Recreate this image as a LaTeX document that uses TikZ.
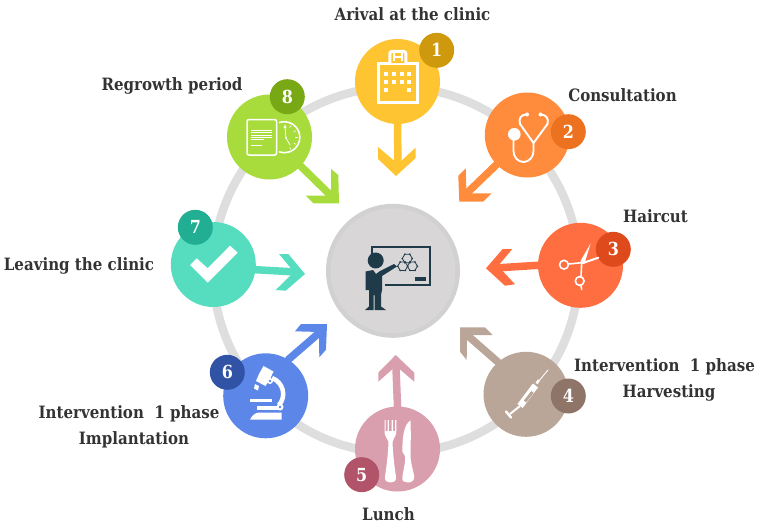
\documentclass[tikz,border=0pt]{standalone}
\usepackage{fontspec}
\newfontfamily\labfont[FakeStretch=0.885]{DejaVu Serif}
\usetikzlibrary{calc}
\pgfdeclarelayer{bg}\pgfsetlayers{bg,main}
\definecolor{cA}{HTML}{FFC431}\definecolor{bA}{HTML}{CF990E}
\definecolor{cB}{HTML}{FF8C3D}\definecolor{bB}{HTML}{EC7220}
\definecolor{cC}{HTML}{FF6E40}\definecolor{bC}{HTML}{DF4A1C}
\definecolor{cD}{HTML}{BAA599}\definecolor{bD}{HTML}{8F7567}
\definecolor{cE}{HTML}{D99FAE}\definecolor{bE}{HTML}{B15469}
\definecolor{cF}{HTML}{5C87E8}\definecolor{bF}{HTML}{3153A5}
\definecolor{cG}{HTML}{56DDC0}\definecolor{bG}{HTML}{22AE93}
\definecolor{cH}{HTML}{A8DC3D}\definecolor{bH}{HTML}{78A814}
\definecolor{ringc}{HTML}{DEDEDE}
\definecolor{hubout}{HTML}{D1D1D1}
\definecolor{hubin}{HTML}{D8D6D7}
\definecolor{txt}{HTML}{333333}
\definecolor{dark}{HTML}{1F3A48}
\tikzset{
 stage/.style={circle,minimum size=85pt,inner sep=0pt,fill=#1},
 badge/.style={circle,minimum size=35pt,inner sep=0pt,fill=#1,text=white,font=\labfont\bfseries\fontsize{18}{18}\selectfont},
 lab/.style={text=txt,inner sep=0pt,font=\labfont\bfseries\fontsize{17}{21}\selectfont,align=center},
 shaft/.style={line width=7.5pt,draw=#1,line cap=round},
 ico/.style={draw=white,line width=#1,line cap=round,line join=round},
}
\begin{document}
\begin{tikzpicture}[x=1pt,y=-1pt]
\useasboundingbox (0,0) rectangle (761,527);
\coordinate (rc) at (396,270);
\begin{pgfonlayer}{bg}
\draw[ringc,line width=8.5pt] (rc) circle[radius=183pt];
\end{pgfonlayer}
\node[circle,minimum size=134pt,inner sep=0pt,fill=hubout] (hub) at (393,270.8) {};
\fill[hubin] (hub) circle[radius=62.5pt];
% stations
\node[stage=cA] (n1) at (397.5,81.5) {};
\node[stage=cB] (n2) at (527.3,135) {};
\node[stage=cC] (n3) at (580.5,265.3) {};
\node[stage=cD] (n4) at (526,394.3) {};
\node[stage=cE] (n5) at (397.5,449) {};
\node[stage=cF] (n6) at (265.7,395.8) {};
\node[stage=cG] (n7) at (213.3,264.5) {};
\node[stage=cH] (n8) at (269.5,137) {};
% badges
\node[badge=bA] (b1) at (436.7,50.3) {1};
\node[badge=bB] (b2) at (568.3,131.7) {2};
\node[badge=bC] (b3) at (613.3,249.3) {3};
\node[badge=bD] (b4) at (568.3,396) {4};
\node[badge=bE] (b5) at (361.7,474.7) {5};
\node[badge=bF] (b6) at (227.3,372.3) {6};
\node[badge=bG] (b7) at (195.3,227.3) {7};
\node[badge=bH] (b8) at (287.3,96.7) {8};
% arrows
\coordinate (s1) at (398,166);\coordinate (s2) at (467,193);\coordinate (s3) at (495,268);\coordinate (s4) at (467,335);
\coordinate (s5) at (396,368);\coordinate (s6) at (319,333);\coordinate (s7) at (296,272);\coordinate (s8) at (331,195.7);
\begin{pgfonlayer}{bg}
\draw[shaft=cA] (n1.south) -- (s1);
\fill[cA] (396,176)--(415.7,158)--(415.7,147.5)--(398,164)--(378,147)--(378,159)--cycle;
\draw[shaft=cB] (n2.center) -- (s2);
\fill[cB] (459.3,201.5)--(458.3,175.7)--(465.7,168.3)--(466.5,193.5)--(491.7,193.3)--(483.3,201.5)--cycle;
\draw[shaft=cC] (n3.180) -- (s3);
\fill[cC] (486,268.3)--(502.7,249)--(512.3,249)--(498,266)--(515,284.3)--(505,285.7)--cycle;
\draw[shaft=cD] (n4.131) -- (s4);
\fill[cD] (460,327.3)--(485,327.3)--(492.7,335)--(467,335)--(466.7,360)--(460,351.7)--cycle;
\draw[shaft=cE] (n5.north) -- (s5);
\fill[cE] (395.7,355)--(414.3,372.7)--(414.3,381.7)--(396,366)--(378.3,381.7)--(378.3,372.7)--cycle;
\draw[shaft=cF] (n6.58) -- (s6);
\fill[cF] (327,324)--(301,324)--(295,331.3)--(319,332)--(319.3,357.3)--(326,349.7)--cycle;
\draw[shaft=cG] (n7.-7) -- (s7);
\fill[cG] (305,274)--(288.3,254)--(279,254)--(294,272)--(275.7,290)--(285.7,290.7)--cycle;
\draw[shaft=cH] (n8.-43) -- (s8);
\fill[cH] (339,203.3)--(338.3,175)--(331,169)--(331,195.7)--(305.7,195.7)--(313.3,203.3)--cycle;
\end{pgfonlayer}
% labels
\node[lab] (l1) at (412.5,14) {Arival at the clinic};
\node[lab] (l2) at (622.5,95) {Consultation};
\node[lab] (l3) at (655.5,216) {Haircut};
\node[lab] (l4) at (664.5,380) {Intervention\ \ 1 phase\\[4.5pt]\hspace*{9pt}Harvesting};
\node[lab] (l5) at (388.5,514) {Lunch};
\node[lab] (l6) at (129,427) {Intervention\ \ 1 phase\\[5pt]\hspace*{10pt}Implantation};
\node[lab] (l7) at (79,265.5) {Leaving the clinic};
\node[lab] (l8) at (172,85.5) {Regrowth period};
% ---- icon 1 hospital
\draw[ico=3pt,line join=miter] (378.8,63.2) rectangle (417.5,102.5);
\draw[ico=3pt,rounded corners=2pt,fill=cA] (389.8,63.2)--(389.8,51.5)--(405.8,51.5)--(405.8,63.2);
\draw[ico=2.4pt,line cap=butt] (393.8,53)--(393.8,61) (401.8,53)--(401.8,61) (393.8,57)--(401.8,57);
\foreach \x in {386,393.7,401.7,409.3}{\foreach \y in {74,82.3}{\fill[white] (\x-2,\y-2) rectangle (\x+2,\y+2);}}
\foreach \x in {386,409.3}{\fill[white] (\x-2,88) rectangle (\x+2,92);}
\fill[cA] (392.3,92.7) rectangle (403.3,101.2);
% ---- icon 2 stethoscope
\fill[white] (514.3,134.3) circle[radius=6.3pt];
\draw[ico=1.9pt] (513.5,138)--(513.5,151) arc[start angle=180,end angle=360,x radius=10pt,y radius=11pt]--(533.5,143);
\draw[ico=1.9pt] (526,114.5)..controls (521,115) and (518.5,118) .. (520,124)--(533.5,143)--(547.5,124)..controls (549,118) and (546,115) .. (541,114.5);
\fill[white] (527,114.5) circle[radius=2pt] (540.5,114.5) circle[radius=2pt];
% ---- icon 3 scissors
\draw[ico=1.6pt] (564,264.7) circle[radius=4.4pt] (579.7,281) circle[radius=4.4pt];
\draw[ico=1.6pt] (568.4,264)--(581.7,262.7) (581,276.7)--(581.7,262.7) (581,285.5)--(581.7,289.5);
\fill[white] (590.7,243.3)--(584.5,263.5)--(581,264)--(580.5,261)--cycle;
\draw[ico=2pt] (583,263)--(598.3,257.7);
% ---- icon 4 syringe
\draw[ico=.9pt] (548,370)--(538,382);
\draw[ico=6.5pt,line cap=butt] (535.5,385.5)--(520,406);
\draw[line width=3pt,cD,line cap=butt] (532.5,392)--(525,401.5);
\draw[ico=2pt,line cap=butt] (520,406)--(510,414);
\draw[ico=2.5pt] (506,411.5)--(511,417.5);
\draw[ico=2.5pt,line cap=butt] (536.5,383.5)--(539,380);
% ---- icon 5 fork and knife
\fill[white] (384.5,420) -- (385.5,420)--(385.5,431)--(387.5,431)--(387.5,420)--(388.8,420)--(388.8,431)--(391.5,431)--(391.5,420)--(393,420)--(393,431)--(395,431)--(395,420)--(396.5,420)--(396.3,432)
 ..controls (396,437) and (393,438) .. (392.5,442) ..controls (393,456) and (395,470) .. (396,477) ..controls (396.5,481.5) and (393,482.5) .. (390.5,482.5) ..controls (388,482.5) and (384.5,481.5) .. (385,477) ..controls (386,470) and (388,456) .. (388.5,442) ..controls (388,438) and (384.5,437) .. (384.5,432)--cycle;
\fill[white] (410.5,420.5) ..controls (411,434) and (410.7,445) .. (410.5,454) ..controls (410.5,465) and (414,472) .. (414.3,477) ..controls (414.3,481.5) and (410,482.5) .. (408,482.5) ..controls (405,482.5) and (402,481.5) .. (402.3,478) ..controls (403,470) and (406,462) .. (405,456) --(402.5,452) ..controls (402,438) and (404,424) .. (410.5,420.5)--cycle;
% ---- icon 6 microscope
\fill[white] (263.5,366)--(273.5,371.5)--(270,379)--(265.5,386)--(256,381)--(259,374)--cycle;
\fill[white] (255,384)--(259,386)--(258,390.5)--(254,388.5)--cycle;
\draw[ico=4.5pt,line cap=butt] (272,378) ..controls (283,382) and (287,396) .. (279,405);
\fill[white] (270,381) circle[radius=3pt];
\fill[cF] (270,381) circle[radius=1.3pt];
\fill[white] (250,399.3)rectangle(272,402);
\fill[white] (256.5,405.5)--(282,405.5)--(282,410)--(256.5,410)--cycle;
\fill[white] (280,407) circle[radius=3.5pt];
\fill[cF] (280,407) circle[radius=1.3pt];
\fill[white] (250,419.5)..controls (253,414) and (256,412.5) .. (260,412.5)--(281.5,412.5)--(281.5,419.5)--cycle;
% ---- icon 7 check
\fill[white] (190,265)--(196.7,258.3)--(207.7,268.3)--(230,245.7)--(237.7,252.7)--(207.7,282.7)--cycle;
% ---- icon 8 document and clock
\draw[ico=1.5pt,rounded corners=2pt] (247,119.5) rectangle (276.5,155);
\draw[ico=.9pt,line cap=butt] (251,130)--(272,130) (251,132.5)--(272,132.5) (251,135)--(272,135) (251,137)--(272,137) (251,139)--(264,139) (251,145)--(262,145);
\draw[ico=1.6pt,line cap=butt] (279,122.7) arc[start angle=110,end angle=-110,radius=15.5pt];
\draw[ico=.8pt] (285,126.5)--(286,138)--(290,145);
\fill[white] (285,124.5)--(286.5,128)--(283.5,128)--cycle;
\fill[white] (286,138) circle[radius=1pt];
\foreach \a in {-60,-30,0,30,60}{\draw[ico=.6pt] ($(284,137.5)+(\a:13.5)$)--($(284,137.5)+(\a:11.5)$);}
% ---- hub icon
\draw[dark,line width=1.8pt] (371.7,253.5)--(371.7,246.7)--(430,246.7)--(430,285)--(385,285);
\fill[dark] (415,277.3) rectangle (425.7,281);
\fill[dark] (375.7,260.5) circle[radius=8pt];
\fill[dark] (365.5,271.5)--(373,270)--(376,274)--(380,271)--(394,264)--(397,266.5)--(382,276)--(382,290)--(381,295)--(381,306.5)--(386,310)--(374.5,310)--(374.5,295)--(373.5,295)--(373.5,310)--(365,310)--(369,306.5)--(369,290)--(365.5,290)--cycle;
\foreach \cx/\cy in {407.3/258.5,402.7/266.2,412.4/266.2}{
 \draw[dark,line width=.8pt] (\cx+5,\cy)--(\cx+2.5,\cy+4.3)--(\cx-2.5,\cy+4.3)--(\cx-5,\cy)--(\cx-2.5,\cy-4.3)--(\cx+2.5,\cy-4.3)--cycle;
 \foreach \dx/\dy in {5/0,2.5/4.3,-2.5/4.3,-5/0,-2.5/-4.3,2.5/-4.3}{\fill[dark] (\cx+\dx,\cy+\dy) circle[radius=.9pt];}
}
\end{tikzpicture}
\end{document}
